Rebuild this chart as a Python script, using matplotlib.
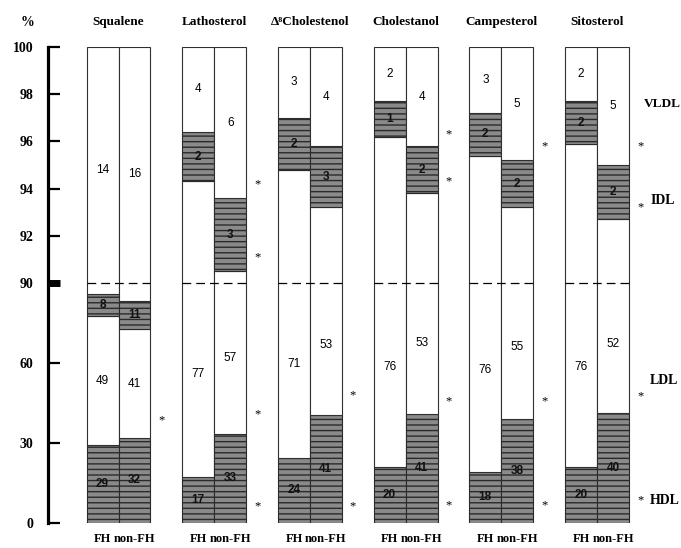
import numpy as np
import matplotlib
matplotlib.use('Agg')
import matplotlib.pyplot as plt

# Sterol groups
groups = ['Squalene', 'Lathosterol', '\u0394\u2078Cholestenol', 'Cholestanol',
          'Campesterol', 'Sitosterol']

# Drawn segment heights (% of total)
hdl_fh = [29.2, 17.4, 24.5, 20.9, 19.2, 20.9]
ldl_fh = [48.4, 76.9, 70.3, 75.3, 76.2, 75.0]
idl_fh = [8.3, 2.1, 2.2, 1.5, 1.8, 1.8]
vldl_fh = [14.1, 3.6, 3.0, 2.3, 2.8, 2.3]

hdl_non = [32.0, 33.4, 40.5, 40.9, 38.9, 41.4]
ldl_non = [40.6, 57.1, 52.7, 52.9, 54.3, 51.3]
idl_non = [10.8, 3.1, 2.6, 2.0, 2.0, 2.3]
vldl_non = [16.6, 6.4, 4.2, 4.2, 4.8, 5.0]

# Printed numbers inside the bars
lab_hdl_fh = [29, 17, 24, 20, 18, 20]
lab_ldl_fh = [49, 77, 71, 76, 76, 76]
lab_idl_fh = [8, 2, 2, 1, 2, 2]
lab_vldl_fh = [14, 4, 3, 2, 3, 2]

lab_hdl_non = [32, 33, 41, 41, 38, 40]
lab_ldl_non = [41, 57, 53, 53, 55, 52]
lab_idl_non = [11, 3, 3, 2, 2, 2]
lab_vldl_non = [16, 6, 4, 4, 5, 5]

# Significance stars (y value of each star)
stars = [[38.4],
         [94.2, 91.1, 40.7, 6.1],
         [48.0, 6.1],
         [96.3, 94.3, 45.5, 6.7],
         [95.8, 45.5, 6.7],
         [95.8, 93.2, 47.6, 8.4]]

fractions = ['VLDL', 'IDL', 'LDL', 'HDL']
fraction_y = [97.6, 93.5, 53.6, 8.6]

yticks = [0, 30, 60, 90, 92, 94, 96, 98, 100]

# broken y scale: 0-90 on the lower half, 90-100 on the upper half
r = 0.983


def fwd(v):
    v = np.asarray(v, dtype=float)
    return np.where(v <= 90, v / 90.0, 1 + (v - 90) / 10.0 * r)


def inv(u):
    u = np.asarray(u, dtype=float)
    return np.where(u <= 1, u * 90.0, 90 + (u - 1) * 10.0 / r)


def disp_mid(a, b):
    return float(inv((fwd(a) + fwd(b)) / 2))


serif = ['Liberation Serif', 'DejaVu Serif']
sans = ['Liberation Sans', 'DejaVu Sans']

fig = plt.figure(figsize=(6.81, 5.48), dpi=100)
ax = fig.add_axes([48 / 681, 25 / 548, 633 / 681, 476 / 548])
ax.set_yscale('function', functions=(fwd, inv))

w = 0.334
hatch_kw = dict(facecolor='#8a8a8a', edgecolor='#2a2a2a', hatch='---', linewidth=0.8)
white_kw = dict(facecolor='white', edgecolor='#303030', linewidth=0.8)

x = np.arange(len(groups))
sides = [
    (x - w / 2, hdl_fh, ldl_fh, idl_fh, vldl_fh,
     lab_hdl_fh, lab_ldl_fh, lab_idl_fh, lab_vldl_fh),
    (x + w / 2, hdl_non, ldl_non, idl_non, vldl_non,
     lab_hdl_non, lab_ldl_non, lab_idl_non, lab_vldl_non),
]

for xs, hdl, ldl, idl, vldl, lh, ll, li, lv in sides:
    hdl = np.array(hdl)
    ldl = np.array(ldl)
    idl = np.array(idl)
    vldl = np.array(vldl)
    ax.bar(xs, hdl, w, bottom=0, **hatch_kw)
    ax.bar(xs, ldl, w, bottom=hdl, **white_kw)
    ax.bar(xs, idl, w, bottom=hdl + ldl, **hatch_kw)
    ax.bar(xs, vldl, w, bottom=hdl + ldl + idl, **white_kw)
    for i in range(len(groups)):
        b1 = hdl[i]
        b2 = b1 + ldl[i]
        b3 = b2 + idl[i]
        b4 = b3 + vldl[i]
        ax.text(xs[i], b1 / 2, str(lh[i]), ha='center', va='center',
                fontsize=8.5, fontweight='bold', family=sans, color='#111111')
        ax.text(xs[i], (b1 + b2) / 2, str(ll[i]), ha='center', va='center',
                fontsize=8.5, family=sans)
        ax.text(xs[i], disp_mid(b2, b3), str(li[i]), ha='center', va='center',
                fontsize=8.5, fontweight='bold', family=sans, color='#111111')
        ax.text(xs[i], disp_mid(b3, b4), str(lv[i]), ha='center', va='center',
                fontsize=8.5, family=sans)

# dashed line at the axis break
ax.hlines([90] * len(groups), x - w, x + w, colors='black',
          linestyles=(0, (7, 4)), linewidth=0.9, zorder=5)

# stars
for i, ys in enumerate(stars):
    for yv in ys:
        ax.text(x[i] + 0.45, yv, '*', ha='center', va='center',
                fontsize=9, family=serif)

# group titles
for i, g in enumerate(groups):
    ax.text(x[i], 1.053, g, transform=ax.get_xaxis_transform(),
            ha='center', va='center', fontsize=9.5, fontweight='bold',
            family=serif)

# fraction labels on the right
for name, yv in zip(fractions, fraction_y):
    if name == 'VLDL':
        # pull it in so it is not clipped at the right edge
        ax.text(0.999, yv, name, transform=ax.get_yaxis_transform(),
                ha='right', va='center', fontsize=9.5, fontweight='bold',
                family=serif)
    else:
        ax.text(5.555, yv, name, ha='left', va='center', fontsize=10,
                fontweight='bold', family=serif)

fig.text(28 / 681, 1 - 22 / 548, '%', ha='center', va='center',
         fontsize=10, fontweight='bold', family=serif)

# axes
ax.set_xlim(-0.737, 5.878)
ax.set_ylim(0, 100)
for s in ['top', 'right', 'bottom']:
    ax.spines[s].set_visible(False)
ax.spines['left'].set_linewidth(2.3)
ax.spines['left'].set_bounds(0, 100)

ax.set_yticks(yticks)
ax.set_yticklabels([str(t) for t in yticks])
ax.tick_params(axis='y', direction='in', length=8.5, width=1.6, pad=10.5,
               labelsize=10)
for lab in ax.get_yticklabels():
    lab.set_fontweight('bold')
    lab.set_family(serif)
# thick block marks the break at 90
ax.yaxis.get_major_ticks()[3].tick1line.set_markeredgewidth(5)

xt = np.concatenate([x - w / 2, x + w / 2])
ax.set_xticks(xt)
ax.set_xticklabels(['FH'] * len(groups) + ['non-FH'] * len(groups))
ax.tick_params(axis='x', length=0, pad=7, labelsize=9)
for lab in ax.get_xticklabels():
    lab.set_fontweight('bold')
    lab.set_family(serif)

fig.savefig('out.png', dpi=100)
